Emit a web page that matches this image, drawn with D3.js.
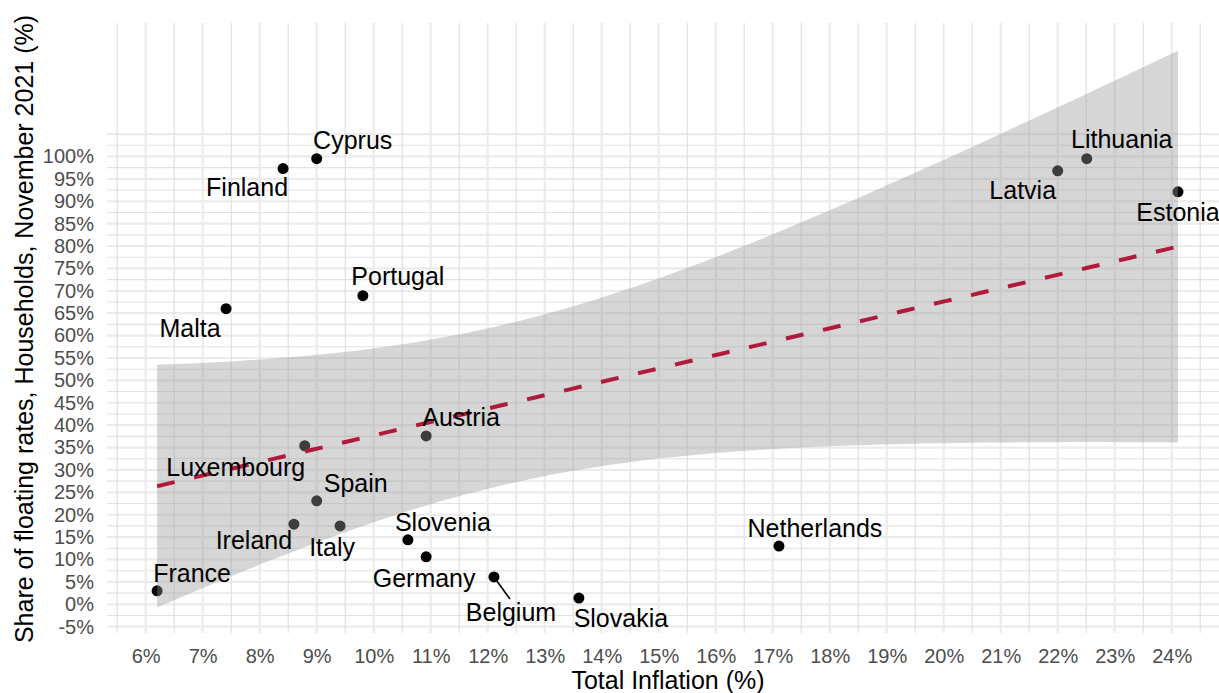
<!DOCTYPE html>
<html><head><meta charset="utf-8">
<script src="https://cdn.jsdelivr.net/npm/d3@7/dist/d3.min.js"></script>
<style>
html,body{margin:0;padding:0;background:#fff;}
svg{display:block;font-family:"Liberation Sans",Arial,Helvetica,sans-serif;}
</style></head>
<body>
<svg id="chart" width="1219" height="693"></svg>
<script>
// ---- data ----
const countries = ["France","Malta","Finland","Cyprus","Portugal","Luxembourg","Spain","Ireland","Italy","Austria","Slovenia","Germany","Belgium","Slovakia","Netherlands","Latvia","Lithuania","Estonia"];
const inflation = [6.2,7.41,8.41,9.0,9.81,8.79,9.0,8.6,9.41,10.92,10.6,10.92,12.11,13.6,17.11,22.0,22.51,24.11];
const floatingShare = [3.0,66.0,97.3,99.5,68.9,35.4,23.1,17.9,17.5,37.6,14.4,10.6,6.1,1.4,13.0,96.8,99.5,92.1];
const xTicks = [6,7,8,9,10,11,12,13,14,15,16,17,18,19,20,21,22,23,24];
const yTicks = [-5,0,5,10,15,20,25,30,35,40,45,50,55,60,65,70,75,80,85,90,95,100];

// label placement (pixel offsets from point, layout only)
const labelOffsets = {
  France:[35,-18], Malta:[-36,20], Finland:[-36,19], Cyprus:[36,-18], Portugal:[35,-19],
  Luxembourg:[-69,21], Spain:[39,-18], Ireland:[-40,16], Italy:[-8,21], Austria:[35,-19],
  Slovenia:[35,-18], Germany:[-2,21], Belgium:[17,35], Slovakia:[42,20], Netherlands:[36,-18],
  Latvia:[-35,19], Lithuania:[35,-19], Estonia:[0,20]
};

const svg = d3.select("#chart");
const panel = {left:107, right:1219, top:23, bottom:633};

const x = d3.scaleLinear().domain([5.3, 25.0]).range([105.8, 1228.7]);
const y = d3.scaleLinear().domain([-6.41, 129.8]).range([633, 23]);

// ---- grid ----
const g = svg.append("g");
const hLines = d3.range(-5, 105.01, 2.5);
g.selectAll("line.hg").data(hLines).join("line")
  .attr("x1", panel.left).attr("x2", panel.right)
  .attr("y1", d => y(d)).attr("y2", d => y(d))
  .attr("stroke", d => (d % 5 === 0) ? "#ebebeb" : "#e2e2e2")
  .attr("stroke-width", d => (d % 5 === 0) ? 2.2 : 1.1);
const vLines = d3.range(5.5, 24.51, 0.5);
g.selectAll("line.vg").data(vLines).join("line")
  .attr("y1", panel.top).attr("y2", panel.bottom)
  .attr("x1", d => x(d)).attr("x2", d => x(d))
  .attr("stroke", d => (d % 1 === 0) ? "#ebebeb" : "#dedede")
  .attr("stroke-width", d => (d % 1 === 0) ? 2.2 : 1.1);

// ---- points ----
const data = countries.map((c,i) => ({name:c, x:inflation[i], y:floatingShare[i]}));
svg.append("g").selectAll("circle").data(data).join("circle")
  .attr("cx", d => x(d.x)).attr("cy", d => y(d.y)).attr("r", 5.5).attr("fill", "#000");

// ---- linear model with 95% CI ----
const n = data.length;
const mx = d3.mean(inflation), my = d3.mean(floatingShare);
let sxx = 0, sxy = 0;
data.forEach(d => { sxx += (d.x-mx)**2; sxy += (d.x-mx)*(d.y-my); });
const b = sxy / sxx, a = my - b*mx;
let sse = 0; data.forEach(d => { sse += (d.y - (a + b*d.x))**2; });
const sigma = Math.sqrt(sse/(n-2));
const tcrit = 2.119905; // t(0.975, df=16)
const xmin = d3.min(inflation), xmax = d3.max(inflation);
const grid = d3.range(0, 80).map(i => xmin + (xmax-xmin)*i/79);
const band = grid.map(xv => {
  const fit = a + b*xv;
  const se = sigma*Math.sqrt(1/n + (xv-mx)**2/sxx);
  return {x:xv, fit, lo: fit - tcrit*se, hi: fit + tcrit*se};
});
svg.append("path").datum(band)
  .attr("d", d3.area().x(d => x(d.x)).y0(d => y(d.lo)).y1(d => y(d.hi)))
  .attr("fill", "#999999").attr("fill-opacity", 0.4);
svg.append("path").datum(band)
  .attr("d", d3.line().x(d => x(d.x)).y(d => y(d.fit)))
  .attr("fill", "none").attr("stroke", "#b01a3c").attr("stroke-width", 4)
  .attr("stroke-dasharray", "18,20");

// ---- labels ----
const lab = svg.append("g");
data.forEach(d => {
  const o = labelOffsets[d.name];
  const px = x(d.x), py = y(d.y);
  if (d.name === "Belgium") {
    lab.append("line").attr("x1", px).attr("y1", py).attr("x2", px+16).attr("y2", py+22)
      .attr("stroke", "#000").attr("stroke-width", 1.6);
  }
  lab.append("text").attr("x", px + o[0]).attr("y", py + o[1]).attr("dy", "0.35em")
    .attr("text-anchor", "middle").attr("font-size", 25).attr("fill", "#000").text(d.name);
});

// ---- axes ----
const xAxis = svg.append("g").attr("transform", `translate(0,${panel.bottom})`)
  .call(d3.axisBottom(x).tickValues(xTicks).tickSize(0).tickPadding(16).tickFormat(d => d + "%"));
xAxis.select(".domain").remove();
xAxis.selectAll("text").attr("font-size", 20).attr("fill", "#4d4d4d").attr("font-family", "Liberation Sans, Arial, sans-serif");

const yAxis = svg.append("g").attr("transform", `translate(94,0)`)
  .call(d3.axisLeft(y).tickValues(yTicks).tickSize(0).tickPadding(0).tickFormat(d => d + "%"));
yAxis.select(".domain").remove();
yAxis.selectAll("text").attr("font-size", 20).attr("fill", "#4d4d4d").attr("font-family", "Liberation Sans, Arial, sans-serif");

svg.append("text").attr("x", 668).attr("y", 689).attr("text-anchor", "middle")
  .attr("font-size", 25).attr("fill", "#000").text("Total Inflation (%)");
svg.append("text").attr("transform", "translate(33,329) rotate(-90)").attr("text-anchor", "middle")
  .attr("font-size", 25).attr("fill", "#000").text("Share of floating rates, Households, November 2021 (%)");
</script>
</body></html>
